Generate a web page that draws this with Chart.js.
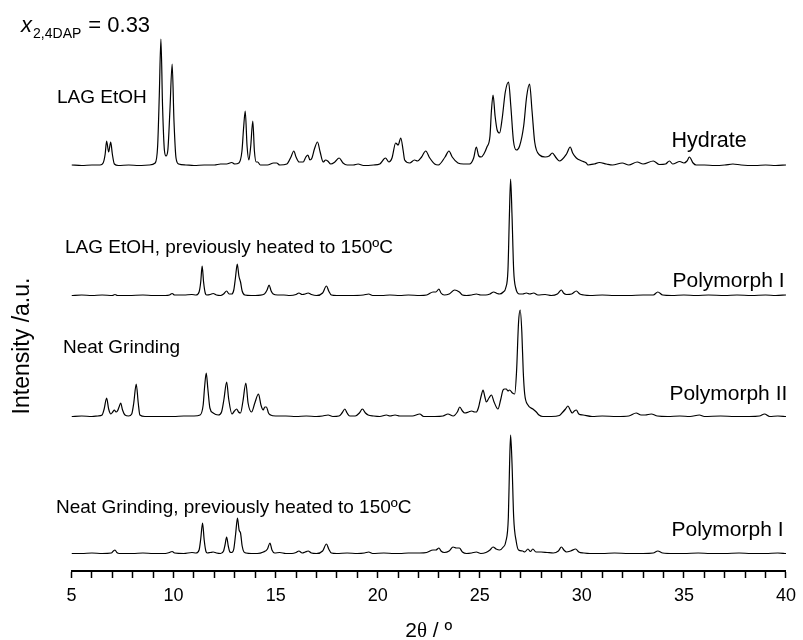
<!DOCTYPE html>
<html>
<head>
<meta charset="utf-8">
<script src="https://cdn.jsdelivr.net/npm/chart.js@4/dist/chart.umd.min.js"></script>
<style>
  html, body { margin: 0; padding: 0; background: #fff; }
  #wrap { width: 803px; height: 640px; }
</style>
</head>
<body>
<div id="wrap"><canvas id="xrd" width="803" height="640"></canvas></div>
<script>
// Powder diffraction patterns, 2θ (degrees) and intensity (a.u.)
const hydrateTheta = [5.0,5.5,6.0,6.4,6.55,6.65,6.72,6.82,6.92,7.0,7.1,7.3,7.8,8.3,8.8,9.1,9.22,9.3,9.38,9.46,9.55,9.63,9.72,9.82,9.93,10.02,10.12,10.25,10.6,11.0,11.5,12.0,12.3,12.6,12.85,13.0,13.2,13.35,13.43,13.51,13.6,13.69,13.78,13.88,13.96,14.05,14.12,14.25,14.6,14.9,15.05,15.2,15.55,15.75,15.89,16.0,16.15,16.35,16.48,16.58,16.68,16.78,16.9,17.05,17.18,17.33,17.45,17.55,17.7,17.9,18.11,18.3,18.5,18.8,19.04,19.3,19.8,20.1,20.38,20.55,20.7,20.88,21.0,21.13,21.25,21.32,21.57,21.8,21.95,22.15,22.35,22.55,22.79,22.97,23.3,23.49,23.65,23.93,24.2,24.5,24.7,24.83,24.95,25.07,25.2,25.35,25.5,25.57,25.65,25.75,25.85,25.97,26.1,26.25,26.41,26.52,26.65,26.79,26.95,27.15,27.3,27.44,27.56,27.69,27.93,28.2,28.4,28.55,28.75,28.9,29.25,29.43,29.55,29.73,30.0,30.22,30.3,30.6,30.86,31.2,31.5,31.98,32.3,32.71,33.0,33.5,33.8,34.1,34.29,34.45,34.8,35.0,35.15,35.27,35.45,35.6,36.0,36.5,37.0,37.4,37.8,38.5,39.0,39.5,40.0];
const hydrateCounts = [1,0.5,1,1,3,12,25,14,24,12,2,0.5,1,0.5,1,3,20,70,127,60,16,10,16,55,102,45,8,2,1,0.5,1,1,2,2,3.5,2,3,15,38,55,20,6,20,45,15,4,4,1,1,3,3,1,2,9,15,9,4,4,9,11,6,8,17,24,14,4,6,5,2,4,8,3,1,1,2,0.5,1,2,8,4,8,23,21,28,15,6,3,6,5,9,15,8,2,1,9,15,9,3,2,2,8,19,10,9,12,19,30,55,71,50,36,33,48,74,84,60,25,16,20,40,70,82,55,24,11,9,10,13,8,5,12,19,13,8,5,3,1,2,3.5,2,1,3,1,4,2,5,1.5,2,5,2,4.5,3,5,9,3,1,1,0.5,1,2,1,0.5,1,0.5,1];

const lagHeatedTheta = [5.0,5.5,6.0,6.5,7.0,7.13,7.25,7.8,8.5,9.0,9.6,9.8,9.93,10.05,10.5,10.9,11.1,11.25,11.33,11.4,11.47,11.55,11.62,11.8,11.94,12.1,12.3,12.45,12.6,12.72,12.85,12.95,13.03,13.12,13.2,13.28,13.36,13.49,13.8,14.0,14.45,14.58,14.68,14.78,14.88,15.1,15.4,15.7,16.0,16.14,16.3,16.45,16.59,16.75,17.0,17.3,17.49,17.6,17.73,18.0,18.6,19.3,19.56,19.75,20.2,20.6,21.08,21.5,22.06,22.4,22.71,22.85,23.0,23.1,23.26,23.5,23.77,24.0,24.15,24.35,24.6,24.83,25.05,25.3,25.5,25.68,25.85,25.97,26.15,26.27,26.38,26.45,26.51,26.58,26.66,26.76,26.95,27.1,27.28,27.45,27.64,27.85,28.2,28.5,28.8,29.0,29.1,29.25,29.5,29.73,29.9,30.1,30.4,31.0,31.6,32.3,33.0,33.5,33.72,33.96,34.4,35.0,35.6,36.2,37.0,37.6,38.3,39.0,39.5,40.0];
const lagHeatedCounts = [0.5,1,0.5,1,0.5,1.5,0.5,0.5,1,0.5,0.5,1,2.5,1,1,1.5,1,4,14,30,14,3,1,1.5,2.5,1,0.5,2,5,2,2,6,18,32,20,14,5,1,0.5,0.5,2,6,11,5,2,1,1,0.5,1.5,3,1.5,2,3,1.5,0.5,3,10,5,1,0.5,0.5,1,2,0.5,0.5,1,0.5,1,0.5,1,4,4,7,3,1,2,6,4,1,0.5,1,2,1,1,2,4,2.5,2,4,8,26,80,117,80,26,8,2,2,3,2,3,1,1.5,0.5,2,6,3,1.5,2,5,2,1,0.5,1,0.5,0.5,1,1,4,1,0.5,1,0.5,1,0.5,1,0.5,1,0.5,1];

const neatTheta = [5.0,5.5,6.0,6.3,6.5,6.6,6.72,6.82,6.93,7.02,7.1,7.18,7.25,7.33,7.41,7.5,7.62,7.8,7.95,8.05,8.17,8.27,8.35,8.6,9.0,9.5,10.0,10.5,11.0,11.3,11.45,11.52,11.6,11.68,11.78,11.94,12.19,12.35,12.47,12.6,12.7,12.86,12.98,13.09,13.18,13.28,13.4,13.54,13.65,13.82,13.98,14.16,14.28,14.39,14.47,14.55,14.65,14.75,15.0,15.5,16.0,16.5,17.0,17.3,17.57,17.8,18.1,18.25,18.39,18.5,18.63,18.9,19.1,19.25,19.4,19.53,19.8,20.1,20.43,20.6,20.85,21.08,21.4,21.7,22.06,22.25,22.8,23.2,23.44,23.7,23.9,24.02,24.15,24.27,24.45,24.6,24.75,24.83,24.93,25.0,25.08,25.16,25.25,25.32,25.45,25.57,25.7,25.89,26.02,26.14,26.22,26.3,26.38,26.46,26.6,26.71,26.8,26.9,26.98,27.06,27.13,27.2,27.36,27.6,27.77,27.9,28.09,28.5,28.9,29.07,29.2,29.32,29.43,29.53,29.63,29.73,29.85,30.06,30.5,31.0,31.7,32.3,32.66,32.9,33.1,33.4,33.7,34.2,34.8,35.3,35.76,36.0,36.8,37.5,38.2,38.7,38.95,39.2,39.6,40.0];
const neatCounts = [0.5,1,0.5,1,2,8,19,8,3,5,7,5,6,10,14,7,2,1,3,14,33,14,2,0.5,0.5,0.5,0.5,1,1,2,12,30,44,28,9,4,2,5,18,35,18,3,6,8,5,4,16,34,14,5,14,23,12,7,10,10,4,2,1,1,0.5,1,0.5,1,2,0.5,1,4,8,4,1,1,4,8,4,2,1,0.5,2,1,2,1,1,1,3,0.5,0.5,1,3,1,5,10,6,4,5,6,5,5,9,15,22,27,20,15,19,22,15,8,17,27,28,28,26,27,24,23,45,95,107,85,45,23,12,8,5,2,0.5,0.5,1.5,5,8,11,7,4,6,7,3,2,0.5,1,0.5,1,4,2,2,3,1,0.5,1,0.5,2,0.5,1,0.5,0.5,1,3,0.5,1,0.5];

const neatHeatedTheta = [5.0,5.5,6.0,6.5,6.95,7.05,7.13,7.22,7.35,8.0,8.5,9.0,9.6,9.8,9.93,10.05,10.5,10.9,11.1,11.25,11.33,11.42,11.5,11.58,11.65,11.8,11.94,12.1,12.3,12.45,12.52,12.6,12.68,12.76,12.85,12.95,13.04,13.13,13.21,13.28,13.36,13.45,13.55,13.8,14.1,14.4,14.6,14.72,14.82,14.95,15.2,15.5,15.8,16.0,16.14,16.3,16.45,16.59,16.75,17.0,17.3,17.49,17.6,17.73,18.0,18.5,19.0,19.35,19.56,19.75,20.3,20.8,21.08,21.5,22.06,22.4,22.71,22.85,23.0,23.1,23.26,23.5,23.69,23.85,24.0,24.15,24.35,24.6,24.83,25.05,25.3,25.5,25.65,25.8,25.97,26.15,26.27,26.4,26.46,26.51,26.58,26.66,26.79,26.9,27.1,27.2,27.36,27.48,27.6,27.75,28.0,28.3,28.6,28.85,29.0,29.12,29.25,29.45,29.7,29.85,30.1,30.4,31.0,31.6,32.3,33.0,33.5,33.72,33.96,34.5,35.0,35.7,36.3,37.0,37.7,38.3,39.0,39.6,40.0];
const neatHeatedCounts = [0.5,0.5,1,0.5,1,3,4,1.5,0.5,0.5,1,0.5,0.5,1.5,2.5,1,0.5,1.5,1,4,15,31,14,3,1,1.5,2,1,0.5,3,9,17,8,2,1.5,5,20,36,24,21,8,2,1,0.5,0.5,2,5,11,4,1,1.5,0.5,0.5,1.5,3,1,2,3,1,0.5,3,10,5,1,0.5,1,0.5,1,2,0.5,1,0.5,0.5,1,1,1.5,4,4,6,3,1.5,3,7,6,6,2,0.5,1,2,0.5,1.5,4,7,5,4,7,12,37,90,119,90,37,12,4,3,2,5,2.5,5,2,2,1.5,1,3,7,4,2,3,5,2,1,0.5,0.5,1,0.5,0.5,1,3,1,0.5,0.5,1,0.5,0.5,1,0.5,0.5,1,0.5];

const xTickMin = 5, xTickMax = 40, xTickStep = 1, xLabelEvery = 5;

// vertical stacking of the four patterns (intensity units)
const traces = [
  { theta: hydrateTheta,    counts: hydrateCounts,    shift: 405 },
  { theta: lagHeatedTheta,  counts: lagHeatedCounts,  shift: 275 },
  { theta: neatTheta,       counts: neatCounts,       shift: 154 },
  { theta: neatHeatedTheta, counts: neatHeatedCounts, shift: 17 }
];

const FONT = "'Liberation Sans', Arial, Helvetica, sans-serif";

// annotations placed in data coordinates
const notes = [
  { text: 'LAG EtOH', x: 4.29, y: 467.7, size: 19 },
  { text: 'Hydrate', x: 34.39, y: 424.3, size: 21.5 },
  { text: 'LAG EtOH, previously heated to 150ºC', x: 4.68, y: 317.7, size: 19 },
  { text: 'Polymorph I', x: 34.44, y: 284.3, size: 21 },
  { text: 'Neat Grinding', x: 4.58, y: 217.7, size: 19 },
  { text: 'Polymorph II', x: 34.29, y: 171, size: 21 },
  { text: 'Neat Grinding, previously heated to 150ºC', x: 4.24, y: 57.7, size: 19 },
  { text: 'Polymorph I', x: 34.39, y: 35, size: 21 }
];

const annotate = {
  id: 'annotate',
  afterDraw(chart) {
    const ctx = chart.ctx;
    const xs = chart.scales.x, ys = chart.scales.y;
    ctx.save();
    ctx.fillStyle = '#000';
    ctx.textBaseline = 'alphabetic';
    ctx.textAlign = 'left';
    notes.forEach(n => {
      ctx.font = n.size + 'px ' + FONT;
      ctx.fillText(n.text, xs.getPixelForValue(n.x), ys.getPixelForValue(n.y));
    });

    // composition label: x with subscript 2,4DAP
    let px = xs.getPixelForValue(2.53), py = ys.getPixelForValue(539.3);
    ctx.font = 'italic 22px ' + FONT;
    ctx.fillText('x', px, py);
    px += ctx.measureText('x').width + 1;
    ctx.font = '14px ' + FONT;
    ctx.fillText('2,4DAP', px, py + 6);
    px += ctx.measureText('2,4DAP').width + 7;
    ctx.font = '22px ' + FONT;
    ctx.fillText('= 0.33', px, py);

    // y axis title
    ctx.save();
    ctx.translate(23, 346);
    ctx.rotate(-Math.PI / 2);
    ctx.textAlign = 'center';
    ctx.textBaseline = 'middle';
    ctx.font = '23px ' + FONT;
    ctx.fillText('Intensity /a.u.', 0, 0);
    ctx.restore();

    // x axis title: 2θ / º
    const parts = [
      { t: '2', f: '21px ' + FONT },
      { t: 'θ', f: '21px "Liberation Serif", "DejaVu Serif", serif' },
      { t: ' / º', f: '21px ' + FONT }
    ];
    let total = 0;
    parts.forEach(p => { ctx.font = p.f; p.w = ctx.measureText(p.t).width; total += p.w; });
    let tx = (chart.chartArea.left + chart.chartArea.right) / 2 - total / 2;
    parts.forEach(p => { ctx.font = p.f; ctx.fillText(p.t, tx, 637); tx += p.w; });
    ctx.restore();
  }
};

const datasets = traces.map(tr => ({
  data: tr.theta.map((t, i) => ({ x: t, y: tr.counts[i] + tr.shift })),
  borderColor: '#000',
  borderWidth: 1.2,
  pointRadius: 0,
  fill: false,
  cubicInterpolationMode: 'monotone'
}));

new Chart(document.getElementById('xrd'), {
  type: 'line',
  data: { datasets },
  options: {
    responsive: false,
    animation: false,
    events: [],
    layout: { padding: { left: 71.5, right: 16.5, top: 31, bottom: 0 } },
    plugins: { legend: { display: false }, tooltip: { enabled: false } },
    scales: {
      x: {
        type: 'linear',
        min: xTickMin,
        max: xTickMax,
        afterFit(scale) { scale.height = 69; },
        border: { display: true, color: '#000', width: 2 },
        grid: { display: true, drawOnChartArea: false, drawTicks: true, tickLength: 7, tickWidth: 1.5, tickColor: '#000' },
        ticks: {
          stepSize: xTickStep,
          autoSkip: false,
          maxRotation: 0,
          padding: 7,
          color: '#000',
          font: { family: FONT, size: 18 },
          callback: v => (v % xLabelEvery === 0 ? String(v) : '')
        }
      },
      y: {
        display: false,
        min: 0,
        max: 540
      }
    }
  },
  plugins: [annotate]
});
</script>
</body>
</html>
